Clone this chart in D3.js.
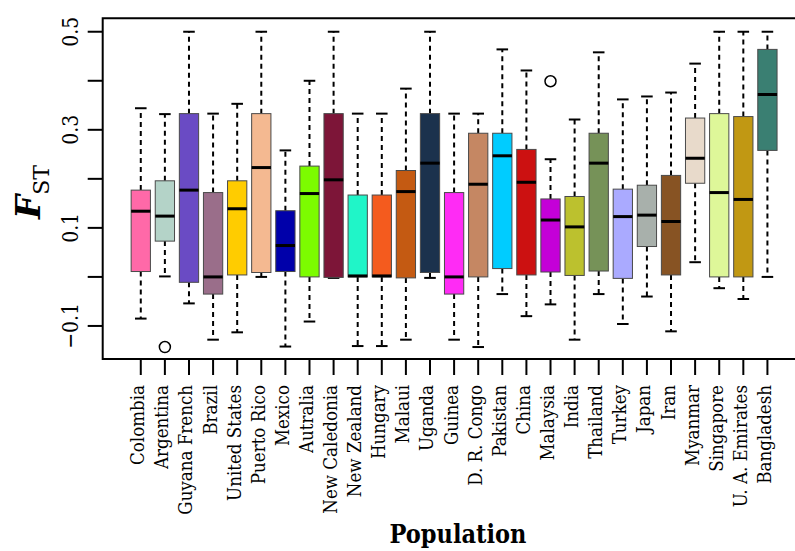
<!DOCTYPE html>
<html><head><meta charset="utf-8">
<script src="https://cdn.jsdelivr.net/npm/d3@7"></script>
<style>body{margin:0;background:#fff}svg{display:block}</style>
</head><body>
<svg id="c" width="795" height="551"></svg>
<script>
const populations = ["Colombia","Argentina","Guyana French","Brazil","United States","Puerto Rico","Mexico","Autralia","New Caledonia","New Zealand","Hungary","Malaui","Uganda","Guinea","D. R. Congo","Pakistan","China","Malaysia","India","Thailand","Turkey","Japan","Iran","Myanmar","Singapore","U. A. Emirates","Bangladesh"];
const lowerWhisker = [-0.085,0.001,-0.054,-0.128,-0.113,0.0,-0.142,-0.091,-0.002,-0.141,-0.141,-0.128,-0.002,-0.128,-0.143,-0.035,-0.080,-0.056,-0.128,-0.035,-0.096,-0.040,-0.111,0.030,-0.023,-0.045,0.0];
const q1 = [0.011,0.073,-0.011,-0.035,0.004,0.009,0.011,0.0,-0.001,0.0,0.0,-0.002,0.009,-0.035,0.0,0.017,0.004,0.010,0.003,0.012,-0.003,0.062,0.004,0.191,0.0,0.0,0.258];
const medians = [0.134,0.124,0.177,0.0,0.139,0.223,0.064,0.170,0.198,0.002,0.002,0.174,0.232,0.0,0.189,0.247,0.193,0.116,0.102,0.232,0.123,0.126,0.113,0.242,0.172,0.158,0.372];
const q3 = [0.177,0.196,0.333,0.172,0.196,0.333,0.135,0.226,0.333,0.167,0.167,0.217,0.333,0.172,0.293,0.293,0.260,0.159,0.164,0.293,0.179,0.187,0.207,0.324,0.333,0.327,0.464];
const upperWhisker = [0.344,0.332,0.5,0.333,0.353,0.5,0.258,0.4,0.5,0.333,0.333,0.384,0.5,0.333,0.333,0.464,0.421,0.240,0.321,0.458,0.362,0.368,0.376,0.435,0.5,0.5,0.5];
const outliers = [{pop:"Argentina", value:-0.143},{pop:"Malaysia", value:0.399}];
const colors = ["#FF69A8","#B4D3C8","#6A4BC4","#9A6E8A","#FFCC00","#F4B991","#0000AA","#7CFC00","#7D1538","#20F5C8","#F45B1E","#C45A12","#1B324D","#FF2BF5","#C58763","#00CCFF","#CC1111","#C400D8","#BCC12E","#769258","#AAAAFF","#A8B0AB","#875323","#E8DACB","#DEF799","#C19813","#3A7F72"];
const yTicks = [-0.1,0.0,0.1,0.2,0.3,0.4,0.5];
const yTickLabels = ["\u22120.1","","0.1","","0.3","","0.5"];

const svg = d3.select("#c");
const pL = 102.7, pR = 805.5, pT = 18.3, pB = 359;
const x = d3.scaleLinear().domain([-0.58, 28.58]).range([pL, pR]);
const y = d3.scaleLinear().domain([-0.1674, 0.5274]).range([pB, pT]);
const bw = (x(1) - x(0)) * 0.8;
const serif = "DejaVu Serif, serif";

const g = svg.append("g");
populations.forEach((p, i) => {
  const cx = x(i + 1);
  const gg = g.append("g");
  gg.append("line").attr("x1", cx).attr("x2", cx).attr("y1", y(q3[i])).attr("y2", y(upperWhisker[i]))
    .attr("stroke", "#000").attr("stroke-width", 2).attr("stroke-dasharray", "5,4");
  gg.append("line").attr("x1", cx).attr("x2", cx).attr("y1", y(q1[i])).attr("y2", y(lowerWhisker[i]))
    .attr("stroke", "#000").attr("stroke-width", 2).attr("stroke-dasharray", "5,4");
  [upperWhisker[i], lowerWhisker[i]].forEach(v => {
    gg.append("line").attr("x1", cx - bw * 0.3).attr("x2", cx + bw * 0.3).attr("y1", y(v)).attr("y2", y(v))
      .attr("stroke", "#000").attr("stroke-width", 2);
  });
  gg.append("rect").attr("x", cx - bw / 2).attr("width", bw)
    .attr("y", y(q3[i])).attr("height", y(q1[i]) - y(q3[i]))
    .attr("fill", colors[i]).attr("stroke", "#4a4a4a").attr("stroke-width", 1);
  gg.append("line").attr("x1", cx - bw / 2).attr("x2", cx + bw / 2).attr("y1", y(medians[i])).attr("y2", y(medians[i]))
    .attr("stroke", "#000").attr("stroke-width", 3);
});
outliers.forEach(o => {
  const i = populations.indexOf(o.pop);
  g.append("circle").attr("cx", x(i + 1)).attr("cy", y(o.value)).attr("r", 5.5)
    .attr("fill", "none").attr("stroke", "#000").attr("stroke-width", 1.5);
});

svg.append("path").attr("d", `M${pR},${pT}H${pL}V${pB}H${pR}`)
  .attr("fill", "none").attr("stroke", "#000").attr("stroke-width", 2);

function fitScale(sel, target) {
  const L = sel.node().getComputedTextLength();
  return L > 0 ? target / L : 1;
}

const ya = svg.append("g");
const yLabs = [];
yTicks.forEach((t, k) => {
  ya.append("line").attr("x1", pL - 15).attr("x2", pL).attr("y1", y(t)).attr("y2", y(t))
    .attr("stroke", "#000").attr("stroke-width", 2);
  if (yTickLabels[k]) {
    const tx = ya.append("text").attr("text-anchor", "middle").attr("font-family", serif)
      .attr("font-size", 23).text(yTickLabels[k]);
    yLabs.push([tx, t]);
  }
});
const ref05 = yLabs.find(d => d[1] === 0.5)[0];
const sY = fitScale(ref05, 30);
yLabs.forEach(([tx, t]) => tx.attr("transform", `translate(${pL - 25},${y(t)}) rotate(-90) scale(${sY},1)`));

const xa = svg.append("g");
const xLabs = [];
populations.forEach((p, i) => {
  const cx = x(i + 1);
  xa.append("line").attr("x1", cx).attr("x2", cx).attr("y1", pB).attr("y2", pB + 16)
    .attr("stroke", "#000").attr("stroke-width", 2);
  const tx = xa.append("text").attr("text-anchor", "end").attr("font-family", serif).attr("font-size", 19).text(p);
  xLabs.push([tx, cx]);
});
const sX = fitScale(xLabs[0][0], 80);
xLabs.forEach(([tx, cx]) => tx.attr("transform", `translate(${cx + 3.5},${pB + 26}) rotate(-90) scale(${sX},1)`));

const title = svg.append("text").attr("text-anchor", "middle")
  .attr("font-family", serif).attr("font-weight", "bold").attr("font-size", 26).text("Population");
const sT = fitScale(title, 137);
title.attr("transform", `translate(458,543) scale(${sT},1)`);

const yl = svg.append("text").attr("transform", "translate(40,192) rotate(-90)")
  .attr("text-anchor", "middle").attr("font-family", serif).attr("font-weight", "bold").attr("font-size", 34);
yl.append("tspan").attr("font-style", "italic").text("F");
yl.append("tspan").attr("font-size", 22).attr("font-weight", "normal").attr("dy", 9).text("ST");
</script>
</body></html>
